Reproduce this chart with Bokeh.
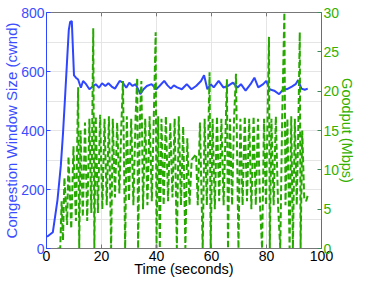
from bokeh.plotting import figure
from bokeh.models import Range1d, LinearAxis, FixedTicker
from bokeh.embed import file_html
from bokeh.resources import INLINE

# ---- data ----
cwnd_t = [0.2, 2.3, 4.0, 5.2, 6.0, 6.7, 7.5, 8.1, 8.6, 9.2, 10.0, 10.7, 11.5, 12.5, 13.3,
          14.4, 15.6, 16.8, 17.9, 19.1, 20.2, 21.4, 22.5, 23.7, 24.9, 26.6, 27.8, 29.0,
          30.1, 31.3, 32.4, 33.6, 34.1, 35.3, 36.5, 38.2, 39.9, 41.1, 42.8, 44.0, 45.2,
          46.3, 47.5, 49.2, 51.0, 52.7, 54.4, 56.2, 57.3, 58.5, 59.7, 60.8, 62.6, 64.3,
          66.0, 67.8, 69.5, 70.7, 72.4, 74.2, 75.6, 77.0, 78.8, 79.9, 81.1, 82.8, 84.6,
          86.3, 87.5, 89.2, 90.6, 91.5, 92.7, 93.9, 95.0]
cwnd_v = [40, 55, 165, 280, 390, 505, 640, 740, 768, 771, 587, 579, 573, 545, 568,
          557, 540, 549, 557, 545, 560, 551, 560, 549, 542, 568, 562, 545,
          562, 551, 557, 535, 523, 540, 551, 557, 540, 551, 568, 553, 542,
          553, 546, 540, 557, 540, 551, 568, 587, 540, 557, 546, 568, 546,
          551, 562, 546, 557, 535, 557, 579, 546, 557, 568, 540, 535, 523,
          542, 540, 549, 557, 571, 542, 538, 542]

gp_t = [4.0, 5.0, 5.5, 6.0, 6.5, 7.5, 8.0, 9.0, 9.8, 10.7, 11.5, 11.9, 12.4, 13.2, 14.0,
        14.8, 15.6, 16.3, 17.0, 17.4, 17.9, 18.7, 19.5, 20.3, 21.1, 21.9, 22.7, 23.5,
        24.1, 24.9, 25.7, 26.5, 27.2, 27.8, 28.6, 29.2, 30.0, 30.8, 31.6, 32.4, 33.0,
        33.3, 34.0, 34.5, 35.1, 35.9, 36.7, 37.5, 38.3, 39.0, 39.7, 40.0, 40.6, 41.2,
        41.8, 42.6, 43.4, 44.2, 45.0, 45.8, 46.6, 47.4, 48.1, 48.9, 49.7, 50.5, 51.2,
        52.0, 52.8, 54.4, 55.0, 55.8, 56.8, 57.5, 58.3, 59.3, 59.7, 60.4, 61.2, 62.0,
        62.8, 63.6, 64.4, 65.2, 65.6, 66.0, 66.7, 67.5, 68.2, 68.9, 69.8, 70.5, 71.3,
        72.1, 72.9, 73.7, 74.5, 75.3, 76.1, 76.9, 77.7, 78.4, 79.1, 79.8, 80.4, 80.9,
        81.2, 81.8, 82.6, 83.4, 84.2, 85.0, 85.7, 86.5, 86.9, 87.6, 88.4, 89.0, 89.6,
        90.3, 91.0, 91.6, 92.1, 92.4, 93.0, 93.7, 94.4, 95.2]
gp_v = [0, 0, 6, 1, 9, 3, 11.7, 2.5, 13, 3.5, 20.5, 0, 15, 4, 16,
        3.5, 16.5, 4.5, 28, 0, 16.8, 4.5, 17, 5, 16.5, 5.5, 16.8, 0,
        16.5, 6.5, 16, 7, 15.5, 21.3, 0, 16.8, 6, 16.5, 5.5, 16.8, 21.7,
        0, 17, 21.3, 5, 16.5, 5.5, 16.8, 6, 16.5, 27.5, 0, 16.8, 0,
        16.5, 5.5, 16.8, 6, 16, 6.5, 16.5, 0, 16.8, 5.5, 15.5, 0, 14,
        5.5, 11.3, 12, 5.5, 16, 0, 16.5, 5.5, 22.4, 0, 16.5, 5, 16.8,
        6, 16.5, 5.5, 16, 21.5, 0, 16.5, 5.5, 16.5, 22.2, 0, 16.5, 5.5,
        16.8, 6, 16.5, 5, 16.8, 5.5, 16.5, 5, 0, 16.5, 5.5, 16.8, 26.9,
        0, 16.5, 5.5, 16.8, 5.5, 0, 16.5, 30, 5.5, 16.5, 0, 16.8, 0,
        16.5, 5.5, 16, 27.5, 0, 15, 6.5, 6, 7]

x_ticks = [0, 20, 40, 60, 80, 100]
cwnd_ticks = [0, 200, 400, 600, 800]
gp_ticks = [0, 5, 10, 15, 20, 25, 30]

BLUE_LINE = "#2f46ff"
BLUE_TEXT = "#3b4dff"
GREEN_LINE = "#27a800"
GREEN_TEXT = "#33b000"
FONT = "Liberation Sans"

p = figure(width=358, height=279, x_range=Range1d(0, 100), y_range=Range1d(0, 800),
           output_backend="svg", toolbar_location=None,
           x_axis_location=None, y_axis_location=None,
           min_border_left=30, min_border_right=20, min_border_top=12, min_border_bottom=20)
p.extra_y_ranges = {"g": Range1d(0, 30)}
p.outline_line_color = "#777777"
p.background_fill_color = "white"
p.border_fill_color = "white"

def style(ax, line_color, label_color):
    ax.axis_line_color = line_color
    ax.axis_line_width = 1
    ax.major_tick_line_color = line_color
    ax.major_tick_in = 4
    ax.major_tick_out = 0
    ax.minor_tick_line_color = None
    ax.major_label_text_color = label_color
    ax.major_label_text_font = FONT
    ax.major_label_text_font_size = "14px"
    ax.major_label_standoff = 2
    ax.axis_label_text_font = FONT
    ax.axis_label_text_font_style = "normal"
    ax.axis_label_text_font_size = "14.5px"

left = LinearAxis(ticker=FixedTicker(ticks=cwnd_ticks), axis_label="Congestion Window Size (cwnd)")
style(left, BLUE_LINE, BLUE_TEXT)
left.axis_label_text_color = BLUE_TEXT
left.axis_label_text_font_size = "15px"
left.axis_label_standoff = -2
p.add_layout(left, "left")

right = LinearAxis(y_range_name="g", ticker=FixedTicker(ticks=gp_ticks), axis_label="Goodput (Mbps)")
style(right, "#3a8a5a", GREEN_TEXT)
right.axis_label_text_color = GREEN_TEXT
right.axis_label_standoff = -3
p.add_layout(right, "right")

bottom = LinearAxis(ticker=FixedTicker(ticks=x_ticks), axis_label="Time (seconds)")
style(bottom, "#777777", "black")
bottom.axis_label_text_color = "black"
bottom.major_label_standoff = 2
bottom.axis_label_standoff = -3
p.add_layout(bottom, "below")

# small inward ticks along the top border
p.segment(x0=x_ticks[1:-1], y0=800, x1=x_ticks[1:-1], y1=787, line_color="#777777", line_width=1)

p.line(cwnd_t, cwnd_v, line_color=BLUE_LINE, line_width=2)
p.line(gp_t, gp_v, y_range_name="g", line_color=GREEN_LINE, line_width=2, line_dash="6 3")

open("out.html", "w").write(file_html(p, INLINE))
